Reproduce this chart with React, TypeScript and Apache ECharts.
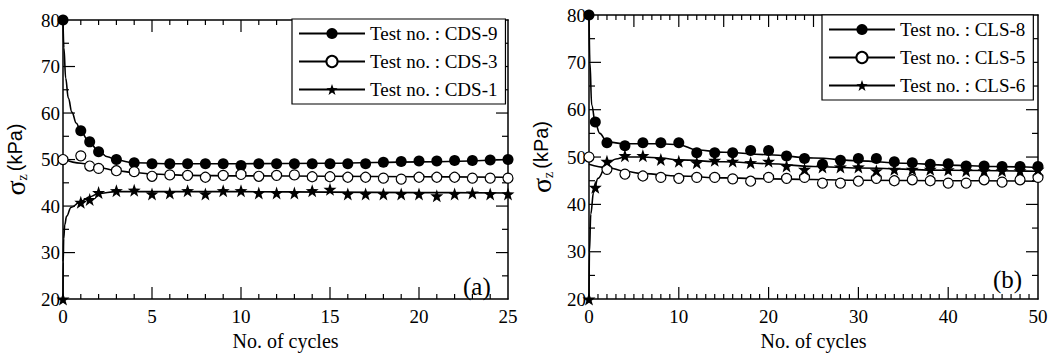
import React, { useEffect, useRef } from "react";
import * as echarts from "echarts";

const FONT = '"Liberation Serif", "Times New Roman", serif';

// ---------- Panel (a) ----------
const cyclesA = [0, 1, 1.5, 2, 3, 4, 5, 6, 7, 8, 9, 10, 11, 12, 13, 14, 15, 16, 17, 18, 19, 20, 21, 22, 23, 24, 25];
const cds9 = [80, 56.2, 53.8, 51.7, 50.0, 49.3, 49.1, 49.1, 49.1, 49.1, 49.1, 48.7, 49.1, 49.1, 49.1, 49.1, 49.1, 49.1, 49.1, 49.4, 49.6, 49.7, 49.7, 49.8, 49.8, 49.9, 50.0];
const cds3 = [50, 50.8, 48.6, 48.1, 47.6, 47.4, 46.4, 46.7, 46.6, 46.2, 46.6, 46.8, 46.4, 46.6, 46.7, 46.3, 46.3, 46.2, 46.2, 46.0, 45.8, 46.2, 46.2, 46.2, 46.0, 46.0, 46.0];
const cds1 = [20, 40.8, 41.4, 42.9, 43.3, 43.4, 42.6, 42.8, 43.3, 42.6, 43.3, 43.3, 42.8, 42.8, 42.8, 43.3, 43.6, 42.6, 42.6, 42.6, 42.6, 42.6, 42.2, 42.6, 42.8, 42.6, 42.6];

// fitted curves
const fit9X = [0, 0.05, 0.15, 0.3, 0.5, 0.75, 1, 1.5, 2, 2.5, 3, 4, 6, 10, 15, 20, 25];
const fit9Y = [80, 74, 67.5, 63.2, 60.2, 57.8, 56, 53.6, 51.8, 50.6, 49.9, 49.3, 49.1, 49.1, 49.2, 49.5, 50];
const fit3X = [0, 1, 2, 3, 4, 5, 7, 10, 15, 20, 25];
const fit3Y = [50.1, 49.2, 48.3, 47.6, 47.2, 46.9, 46.6, 46.5, 46.4, 46.3, 46.2];
const fit1X = [0, 0.01, 0.04, 0.1, 0.2, 0.45, 1, 1.5, 2, 3, 5, 10, 15, 20, 25];
const fit1Y = [20, 28, 33, 36, 37.8, 39.7, 41, 42, 42.7, 43.1, 43.1, 43.1, 43, 42.9, 42.8];

// ---------- Panel (b) ----------
const cyclesB = [0, 0.7, 2, 4, 6, 8, 10, 12, 14, 16, 18, 20, 22, 24, 26, 28, 30, 32, 34, 36, 38, 40, 42, 44, 46, 48, 50];
const cls8 = [80, 57.4, 53.0, 52.4, 53.0, 53.0, 53.0, 50.9, 50.9, 50.9, 51.4, 51.4, 50.2, 49.7, 48.5, 49.3, 49.7, 49.7, 49.0, 48.8, 48.5, 48.6, 48.1, 48.1, 48.0, 48.0, 48.0];
const cls6 = [20, 43.6, 49.1, 50.3, 50.3, 49.5, 49.1, 48.8, 49.3, 49.1, 48.8, 49.1, 48.1, 47.4, 47.9, 47.9, 47.9, 47.1, 47.4, 47.4, 47.4, 47.3, 47.1, 47.1, 47.1, 47.1, 47.4];
const cyclesB5 = [0, 2, 4, 6, 8, 10, 12, 14, 16, 18, 20, 22, 24, 26, 28, 30, 32, 34, 36, 38, 40, 42, 44, 46, 48, 50];
const cls5 = [50, 47.4, 46.4, 46.0, 45.7, 45.5, 45.7, 45.7, 45.4, 44.9, 45.7, 45.5, 45.7, 44.5, 44.5, 44.9, 45.5, 45.0, 45.2, 45.0, 44.5, 44.5, 45.2, 44.7, 45.2, 45.7];

const fit8X = [0, 0.1, 0.3, 0.7, 1.2, 2, 4, 6, 8, 10, 12, 15, 20, 25, 30, 35, 40, 45, 50];
const fit8Y = [80, 70, 61, 57.2, 55, 53.2, 52.8, 52.8, 52.8, 52.6, 51.5, 51, 50.5, 49.8, 49.2, 48.7, 48.3, 48, 47.8];
const fit5X = [0, 2, 4, 6, 10, 15, 20, 30, 40, 50];
const fit5Y = [48.5, 47.8, 47, 46.5, 46, 45.6, 45.4, 45.1, 45, 44.9];
const fit6X = [0, 0.05, 0.2, 0.5, 1, 2, 3, 4, 6, 8, 10, 15, 20, 25, 30, 40, 50];
const fit6Y = [20, 30, 38, 42.5, 45.5, 48.5, 49.6, 50, 50, 49.8, 49.4, 49, 48.6, 48, 47.7, 47.2, 47];

// ---------- Axis ticks ----------
const yTicks = [20, 30, 40, 50, 60, 70, 80];
const yMajor = [30, 40, 50, 60, 70];
const yMinor = [25, 35, 45, 55, 65, 75];
const xMajorA = [5, 10, 15, 20];
const xMinorA = [1, 2, 3, 4, 6, 7, 8, 9, 11, 12, 13, 14, 16, 17, 18, 19, 21, 22, 23, 24];
const xMajorB = [10, 20, 30, 40];
const xMidB = [5, 15, 25, 35, 45];
const xMinorB = [1, 2, 3, 4, 6, 7, 8, 9, 11, 12, 13, 14, 16, 17, 18, 19, 21, 22, 23, 24, 26, 27, 28, 29, 31, 32, 33, 34, 36, 37, 38, 39, 41, 42, 43, 44, 46, 47, 48, 49];

const namesA = ["Test no. : CDS-9", "Test no. : CDS-3", "Test no. : CDS-1"];
const namesB = ["Test no. : CLS-8", "Test no. : CLS-5", "Test no. : CLS-6"];

const STAR =
  "path://M0,-10 L2.35,-3.24 L9.51,-3.09 L3.8,1.24 L5.88,8.09 L0,4 L-5.88,8.09 L-3.8,1.24 L-9.51,-3.09 L-2.35,-3.24 Z";

const zip = (xs: number[], ys: number[]) => xs.map((x, i) => [x, ys[i]]);

function App() {
  const ref = useRef<HTMLDivElement>(null);
  useEffect(() => {
    if (!ref.current) return;
    const chart = echarts.init(ref.current, null, { renderer: "svg" });
    const Y0 = yTicks[0];
    const Y1 = yTicks[yTicks.length - 1];

    const lineS = (name: string, xs: number[], ys: number[], sym: string, ax: number) => ({
      type: "line",
      name,
      data: zip(xs, ys),
      xAxisIndex: ax * 2,
      yAxisIndex: ax * 2,
      smooth: 0.4,
      smoothMonotone: "x",
      symbol: sym,
      symbolSize: 11,
      showSymbol: false,
      lineStyle: { color: "#000", width: 1.6 },
      itemStyle: { color: "#000" },
      z: 2,
    });
    const markS = (name: string, xs: number[], ys: number[], kind: string, ax: number) => ({
      type: "scatter",
      name: name + " pts",
      data: zip(xs, ys),
      xAxisIndex: ax * 2,
      yAxisIndex: ax * 2,
      symbol: kind === "star" ? STAR : "circle",
      symbolSize: kind === "star" ? 13 : kind === "filled" ? 11 : 10,
      itemStyle:
        kind === "empty"
          ? { color: "#fff", borderColor: "#000", borderWidth: 1.2, opacity: 1 }
          : { color: "#000", opacity: 1 },
      z: 3,
    });

    // tick marks drawn through the axes' scales (both opposite edges of the frame)
    const tickLen = (k: number) => (k === 2 ? 12 : k === 1 ? 9 : 5);
    const xTickS = (ax: number, xmax: number, groups: [number[], number, number][]) => ({
      type: "custom",
      name: "xticks" + ax,
      xAxisIndex: ax * 2,
      yAxisIndex: ax * 2,
      silent: true,
      z: 1,
      data: groups.flatMap(([vals, kBottom, kTop]) => vals.map((v) => [v, Y0, kBottom, kTop])),
      renderItem: (_p: any, api: any) => {
        const v = api.value(0);
        const b = api.coord([v, Y0]);
        const t = api.coord([v, Y1]);
        const lb = tickLen(api.value(2));
        const lt = tickLen(api.value(3));
        return {
          type: "group",
          children: [
            { type: "line", shape: { x1: b[0], y1: b[1], x2: b[0], y2: b[1] - lb }, style: { stroke: "#000", lineWidth: 1.2 } },
            { type: "line", shape: { x1: t[0], y1: t[1], x2: t[0], y2: t[1] + lt }, style: { stroke: "#000", lineWidth: 1.2 } },
          ],
        };
      },
      encode: { x: 0, y: 1 },
    });
    const yTickS = (ax: number, xmax: number) => ({
      type: "custom",
      name: "yticks" + ax,
      xAxisIndex: ax * 2,
      yAxisIndex: ax * 2,
      silent: true,
      z: 1,
      data: [...yMajor.map((v) => [0, v, 2]), ...yMinor.map((v) => [0, v, 0])],
      renderItem: (_p: any, api: any) => {
        const v = api.value(1);
        const l = api.coord([0, v]);
        const r = api.coord([xmax, v]);
        const len = api.value(2) === 2 ? 12 : 6;
        return {
          type: "group",
          children: [
            { type: "line", shape: { x1: l[0], y1: l[1], x2: l[0] + len, y2: l[1] }, style: { stroke: "#000", lineWidth: 1.2 } },
            { type: "line", shape: { x1: r[0], y1: r[1], x2: r[0] - len, y2: r[1] }, style: { stroke: "#000", lineWidth: 1.2 } },
          ],
        };
      },
      encode: { x: 0, y: 1 },
    });

    const xAx = (grid: number, pos: string, max: number, interval: number, labels: boolean) => ({
      type: "value",
      gridIndex: grid,
      position: pos,
      min: 0,
      max,
      interval,
      axisLine: { show: true, onZero: false, lineStyle: { color: "#000", width: 1.5 } },
      axisTick: { show: false },
      minorTick: { show: false },
      splitLine: { show: false },
      axisLabel: labels
        ? { show: true, margin: 8, color: "#000", fontFamily: FONT, fontSize: 19, formatter: (v: number) => String(v) }
        : { show: false },
      name: labels ? "No. of cycles" : "",
      nameLocation: "middle",
      nameGap: 22,
      nameTextStyle: { color: "#000", fontFamily: FONT, fontSize: 20 },
    });
    const yAx = (grid: number, pos: string, labels: boolean) => ({
      type: "value",
      gridIndex: grid,
      position: pos,
      min: Y0,
      max: Y1,
      interval: 10,
      axisLine: { show: true, onZero: false, lineStyle: { color: "#000", width: 1.5 } },
      axisTick: { show: false },
      minorTick: { show: false },
      splitLine: { show: false },
      axisLabel: labels
        ? { show: true, margin: 3, color: "#000", fontFamily: FONT, fontSize: 19 }
        : { show: false },
      name: labels ? "{s|σ}{z|z} {k|(kPa)}" : "",
      nameLocation: "middle",
      nameGap: 34,
      nameRotate: 90,
      nameTextStyle: {
        color: "#000",
        fontFamily: FONT,
        rich: {
          s: { fontSize: 28, fontFamily: FONT, color: "#000" },
          z: { fontSize: 14, fontFamily: FONT, color: "#000", verticalAlign: "bottom", padding: [14, 0, 0, 0] },
          k: { fontSize: 20, fontFamily: "Liberation Sans, Arial, sans-serif", color: "#000" },
        },
      },
    });

    const legendBase = {
      orient: "vertical",
      itemWidth: 66,
      itemHeight: 14,
      itemGap: 9,
      padding: [5, 8, 5, 6],
      borderColor: "#000",
      borderWidth: 1.2,
      backgroundColor: "#fff",
      textStyle: { color: "#000", fontFamily: FONT, fontSize: 19 },
      selectedMode: false,
      z: 5,
    };

    const option = {
      animation: false,
      backgroundColor: "#fff",
      grid: [
        { left: 59, top: 20, right: 550, bottom: 48 },
        { left: 589, top: 15, right: 20, bottom: 49 },
      ],
      xAxis: [
        xAx(0, "bottom", 25, 5, true),
        xAx(0, "top", 25, 5, false),
        xAx(1, "bottom", 50, 10, true),
        xAx(1, "top", 50, 10, false),
      ],
      yAxis: [yAx(0, "left", true), yAx(0, "right", false), yAx(1, "left", true), yAx(1, "right", false)],
      legend: [
        { ...legendBase, left: 292, top: 19, data: namesA },
        { ...legendBase, left: 822, top: 15, data: namesB },
      ],
      graphic: [
        { type: "text", left: 463, top: 274, style: { text: "(a)", font: `25px ${FONT}`, fill: "#000" } },
        { type: "text", left: 993, top: 267, style: { text: "(b)", font: `25px ${FONT}`, fill: "#000" } },
      ],
      series: [
        xTickS(0, 25, [[xMajorA, 2, 2], [xMinorA, 0, 0]]),
        yTickS(0, 25),
        xTickS(1, 50, [[xMajorB, 2, 2], [xMidB, 0, 2], [xMinorB, 0, 0]]),
        yTickS(1, 50),
        lineS(namesA[0], fit9X, fit9Y, "circle", 0),
        lineS(namesA[1], fit3X, fit3Y, "emptyCircle", 0),
        lineS(namesA[2], fit1X, fit1Y, STAR, 0),
        markS(namesA[0], cyclesA, cds9, "filled", 0),
        markS(namesA[1], cyclesA, cds3, "empty", 0),
        markS(namesA[2], cyclesA, cds1, "star", 0),
        lineS(namesB[0], fit8X, fit8Y, "circle", 1),
        lineS(namesB[1], fit5X, fit5Y, "emptyCircle", 1),
        lineS(namesB[2], fit6X, fit6Y, STAR, 1),
        markS(namesB[0], cyclesB, cls8, "filled", 1),
        markS(namesB[1], cyclesB5, cls5, "empty", 1),
        markS(namesB[2], cyclesB, cls6, "star", 1),
      ],
    };
    chart.setOption(option as any);
    return () => chart.dispose();
  }, []);
  return (
    <div
      ref={ref}
      style={{ position: "fixed", left: 0, top: 0, width: 1058, height: 356, background: "#fff" }}
    />
  );
}

export default App;
